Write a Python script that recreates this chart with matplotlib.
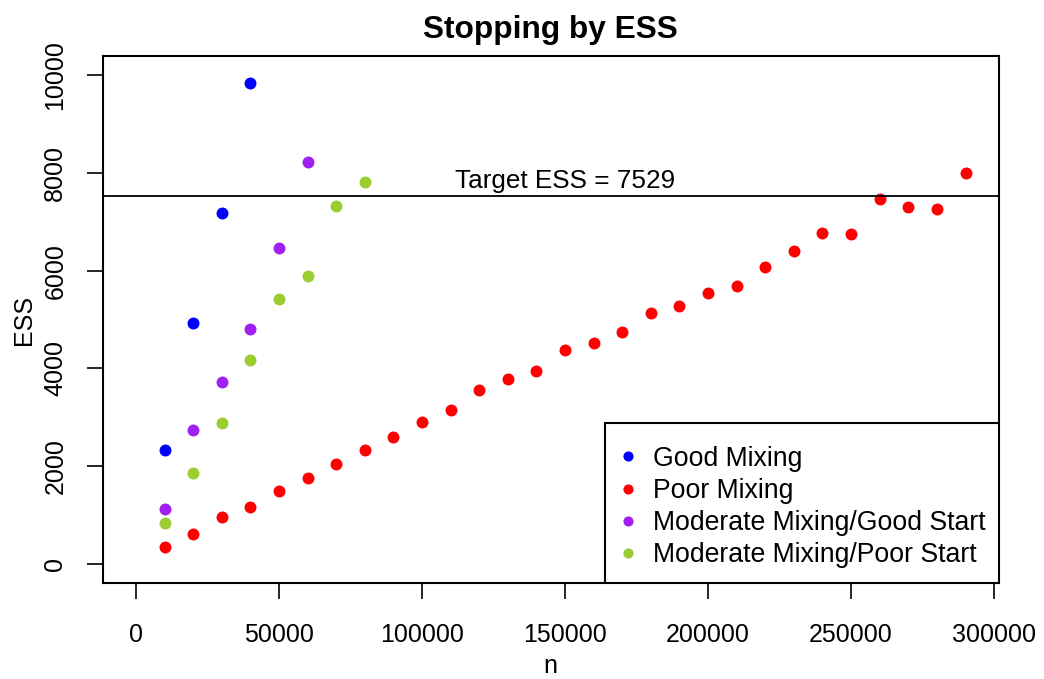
import numpy as np
import matplotlib.pyplot as plt
from matplotlib.patches import Rectangle

plt.rcParams['font.family'] = ['Liberation Sans', 'DejaVu Sans']

# values
n_good = [10000, 20000, 30000, 40000]
ess_good = [2322, 4938, 7178, 9842]

n_poor = [10000, 20000, 30000, 40000, 50000, 60000, 70000, 80000, 90000, 100000,
          110000, 120000, 130000, 140000, 150000, 160000, 170000, 180000, 190000, 200000,
          210000, 220000, 230000, 240000, 250000, 260000, 270000, 280000, 290000]
ess_poor = [334, 600, 949, 1154, 1482, 1762, 2035, 2322, 2594, 2892,
            3140, 3557, 3777, 3941, 4371, 4514, 4740, 5129, 5273, 5539,
            5689, 6072, 6400, 6768, 6748, 7465, 7295, 7260, 7998]

n_modgood = [10000, 20000, 30000, 40000, 50000, 60000]
ess_modgood = [1113, 2732, 3730, 4801, 6461, 8223]

n_modpoor = [10000, 20000, 30000, 40000, 50000, 60000, 70000, 80000]
ess_modpoor = [826, 1850, 2889, 4166, 5416, 5887, 7322, 7807]

target_ess = 7529
labels = ['Good Mixing', 'Poor Mixing', 'Moderate Mixing/Good Start', 'Moderate Mixing/Poor Start']
colors = ['#0000FF', '#FF0000', '#A020F0', '#9ACD32']

fig = plt.figure(figsize=(10.44, 6.79), dpi=100)
ax = fig.add_axes([0.0984, 0.1409, 0.8582, 0.7771])

series = [(n_good, ess_good), (n_poor, ess_poor), (n_modgood, ess_modgood), (n_modpoor, ess_modpoor)]
for (x, y), c, lab in zip(series, colors, labels):
    ax.plot(x, y, 'o', color=c, markersize=8.6, markeredgewidth=0, label=lab)

ax.axhline(target_ess, color='black', linewidth=1.3)
ax.text(150000, target_ess + 60, 'Target ESS = 7529', ha='center', va='bottom', fontsize=18.8)

ax.set_xlim(-11600, 301600)
ax.set_ylim(-400, 10400)
ax.set_xticks(np.arange(0, 300001, 50000))
ax.set_yticks(np.arange(0, 10001, 2000))
ax.set_xticklabels([str(v) for v in range(0, 300001, 50000)])
ax.set_yticklabels([str(v) for v in range(0, 10001, 2000)], rotation=90, va='center')
ax.tick_params(axis='both', direction='out', length=11.5, width=1.2, labelsize=18)
ax.tick_params(axis='x', pad=17)
ax.tick_params(axis='y', pad=14)
for s in ax.spines.values():
    s.set_linewidth(1.5)

ax.set_title('Stopping by ESS', fontsize=22.8, fontweight='bold', pad=13)
ax.set_xlabel('n', fontsize=18, labelpad=5)
ax.set_ylabel('ESS', fontsize=18, labelpad=5)

# legend box in the bottom right corner, like R's legend("bottomright")
box = Rectangle((0.5606, 0.0), 0.4394, 0.3038, transform=ax.transAxes,
                facecolor='white', edgecolor='black', linewidth=1.5, zorder=4)
ax.add_patch(box)
leg = ax.legend(loc='center left', bbox_to_anchor=(0.5804, 0.1446), borderaxespad=0,
                fontsize=19.2, frameon=False, handlelength=0.4, handletextpad=0.73,
                labelspacing=0.23, borderpad=0, markerscale=0.85)
leg.set_zorder(5)

fig.savefig('out.png', dpi=100)
